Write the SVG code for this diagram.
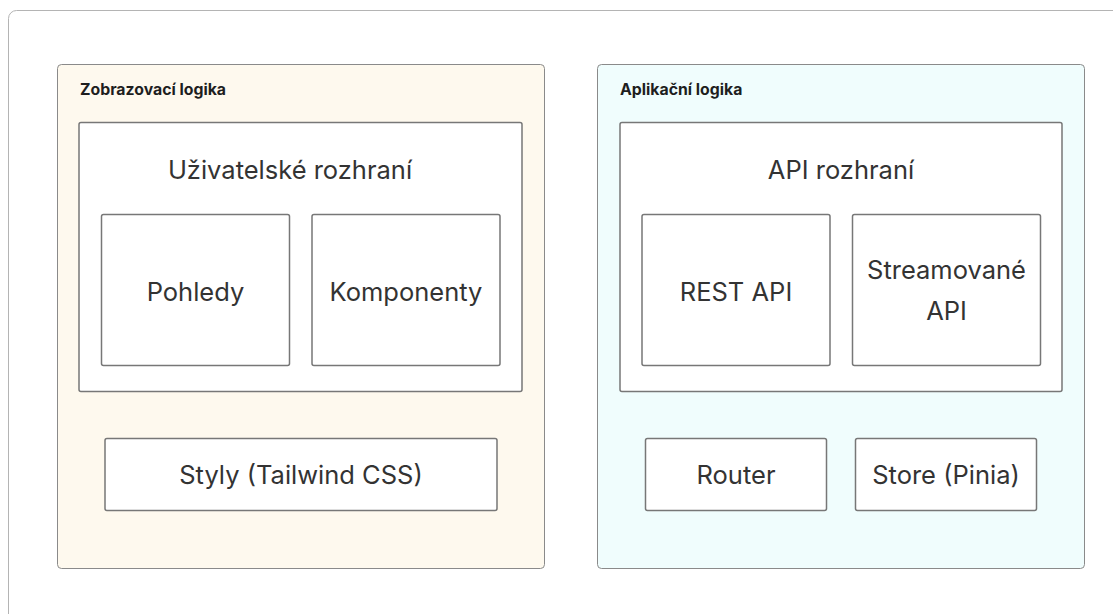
<svg xmlns="http://www.w3.org/2000/svg" width="1113" height="614" viewBox="0 0 1113 614">
  <style>
    .frame { fill: #ffffff; stroke: #b4b4b4; stroke-width: 1; }
    .group-view { fill: #fef9ee; stroke: #8a8a8a; stroke-width: 1; }
    .group-app { fill: #f0fdfd; stroke: #8a8a8a; stroke-width: 1; }
    .box { fill: #ffffff; stroke: #777777; stroke-width: 1.5; }
    .title { font-family: Inter, "Liberation Sans", sans-serif; font-size: 15.8px; font-weight: 650; fill: #1e1e1e; }
    .label { font-family: Inter, "Liberation Sans", sans-serif; font-size: 25.5px; fill: #333333; text-anchor: middle; }
  </style>

  <rect x="0" y="0" width="1113" height="614" fill="#ffffff"/>
  <rect class="frame" x="8.5" y="10.5" width="1130" height="630" rx="8"/>

  <!-- Presentation layer -->
  <g id="zobrazovaci-logika">
    <rect class="group-view" x="57.5" y="64.5" width="487" height="504" rx="4"/>
    <text class="title" x="80" y="95">Zobrazovací logika</text>
  </g>
  <g id="uzivatelske-rozhrani">
    <rect class="box" x="79" y="122.5" width="443" height="269" rx="2"/>
    <text class="label" x="290" y="179">Uživatelské rozhraní</text>
  </g>
  <g id="pohledy">
    <rect class="box" x="101.5" y="214.5" width="188" height="151" rx="2"/>
    <text class="label" x="195.5" y="301">Pohledy</text>
  </g>
  <g id="komponenty">
    <rect class="box" x="312" y="214.5" width="188" height="151" rx="2"/>
    <text class="label" x="406" y="301">Komponenty</text>
  </g>
  <g id="styly">
    <rect class="box" x="105" y="438.5" width="392" height="72" rx="2"/>
    <text class="label" x="301" y="484">Styly (Tailwind CSS)</text>
  </g>

  <!-- Application layer -->
  <g id="aplikacni-logika">
    <rect class="group-app" x="597.5" y="64.5" width="487" height="504" rx="4"/>
    <text class="title" x="620" y="95">Aplikační logika</text>
  </g>
  <g id="api-rozhrani">
    <rect class="box" x="620" y="122.5" width="442" height="269" rx="2"/>
    <text class="label" x="841" y="179">API rozhraní</text>
  </g>
  <g id="rest-api">
    <rect class="box" x="642" y="214.5" width="188" height="151" rx="2"/>
    <text class="label" x="736" y="301">REST API</text>
  </g>
  <g id="streamovane-api">
    <rect class="box" x="852.5" y="214.5" width="188" height="151" rx="2"/>
    <text class="label" x="946.5" y="279">Streamované</text>
    <text class="label" x="946.5" y="320">API</text>
  </g>
  <g id="router">
    <rect class="box" x="645.5" y="438.5" width="181" height="72" rx="2"/>
    <text class="label" x="736" y="484">Router</text>
  </g>
  <g id="store">
    <rect class="box" x="855.5" y="438.5" width="181" height="72" rx="2"/>
    <text class="label" x="946" y="484">Store (Pinia)</text>
  </g>

  <g id="connectors"/>
</svg>
